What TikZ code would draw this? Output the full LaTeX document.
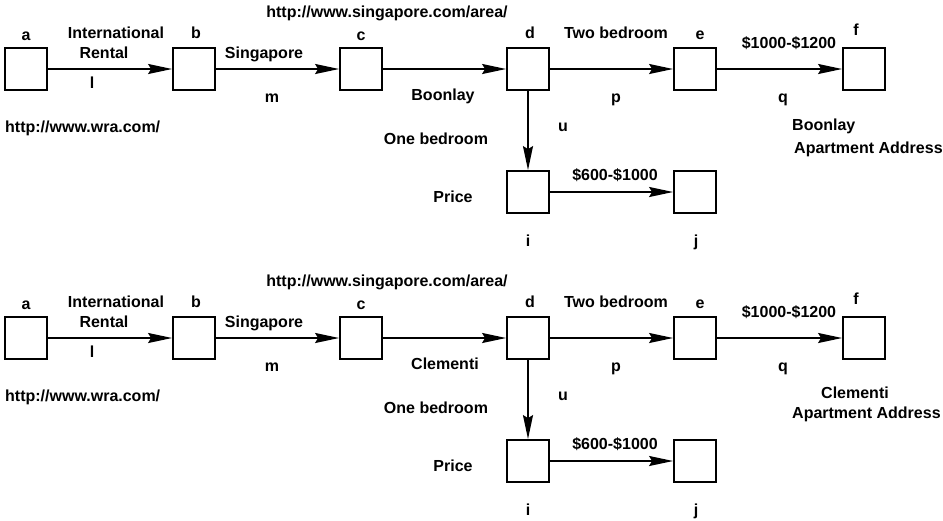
\documentclass[tikz,border=0pt]{standalone}
\usepackage{fontspec}
\setmainfont{Liberation Sans}
\usetikzlibrary{arrows.meta}
\begin{document}
\begin{tikzpicture}[x=1pt,y=-1pt,
  box/.style={draw,line width=1.8pt,minimum size=42pt,inner sep=0pt},
  lab/.style={inner sep=0pt,text height=11.5pt,text depth=0pt,font=\bfseries\fontsize{16}{18}\selectfont},
  arr/.style={line width=1.8pt,-{Stealth[length=24pt,width=10pt,inset=3pt]}}]
\useasboundingbox (0,0) rectangle (943,520);
\fill[white] (0,0) rectangle (943,520);
\foreach \k/\dy in {1/0,2/269}{
\begin{scope}[yshift=-\dy pt]
  \node[box] (a\k) at (26,69) {};
  \node[box] (b\k) at (194,69) {};
  \node[box] (c\k) at (361,69) {};
  \node[box] (d\k) at (528,69) {};
  \node[box] (e\k) at (695,69) {};
  \node[box] (f\k) at (864,69) {};
  \node[box] (i\k) at (528,192) {};
  \node[box] (j\k) at (695,192) {};
  \draw[arr] (a\k) -- (b\k);
  \draw[arr] (b\k) -- (c\k);
  \draw[arr] (c\k) -- (d\k);
  \draw[arr] (d\k) -- (e\k);
  \draw[arr] (e\k) -- (f\k);
  \draw[arr] (d\k) -- (i\k);
  \draw[arr] (i\k) -- (j\k);
  \node[lab] (la\k) at (26,35) {a};
  \node[lab] (lb\k) at (196,33) {b};
  \node[lab] (lc\k) at (361,35) {c};
  \node[lab] (ld\k) at (530,33) {d};
  \node[lab] (le\k) at (700,34) {e};
  \node[lab] (lf\k) at (856,30) {f};
  \node[lab] (lint\k) at (116,33) {International};
  \node[lab] (lren\k) at (104,53) {Rental};
  \node[lab] (ll\k) at (92,83) {l};
  \node[lab] (lsing\k) at (264,53) {Singapore};
  \node[lab] (lm\k) at (272,97) {m};
  \node[lab,anchor=west] (lwra\k) at (5,127) {http://www.wra.com/};
  \node[lab] (lurl\k) at (387,12) {http://www.singapore.com/area/};
  \node[lab] (ltwo\k) at (616,33) {Two bedroom};
  \node[lab] (lp\k) at (616,97) {p};
  \node[lab] (lu\k) at (563,126) {u};
  \node[lab] (lone\k) at (436,139) {One bedroom};
  \node[lab] (lhi\k) at (789,43) {\$1000-\$1200};
  \node[lab] (lq\k) at (783,97) {q};
  \node[lab] (lprice\k) at (453,197) {Price};
  \node[lab] (llow\k) at (615,175) {\$600-\$1000};
  \node[lab] (li\k) at (528,241) {i};
  \node[lab] (lj\k) at (696,241) {j};
\end{scope}
}
\node[lab] (area1) at (443,95) {Boonlay};
\node[lab,anchor=west] (addr1a) at (792,125) {Boonlay};
\node[lab,anchor=west] (addr1b) at (794,148) {Apartment Address};
\node[lab] (area2) at (445,364) {Clementi};
\node[lab] (addr2a) at (855,393) {Clementi};
\node[lab,anchor=west] (addr2b) at (792,413) {Apartment Address};
\end{tikzpicture}
\end{document}
